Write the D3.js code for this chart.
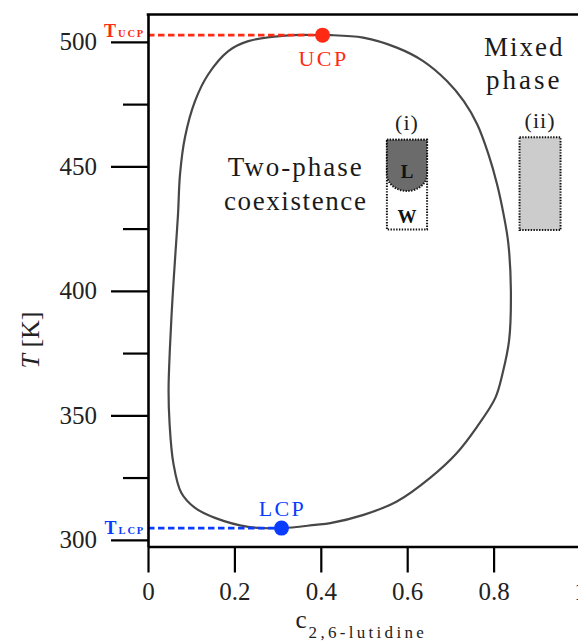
<!DOCTYPE html>
<html>
<head>
<meta charset="utf-8">
<script src="https://cdn.jsdelivr.net/npm/d3@7"></script>
<style>
  html, body { margin: 0; padding: 0; background: #fff; }
  svg { display: block; font-family: "Liberation Serif", "Times New Roman", serif; }
</style>
</head>
<body>
<svg id="chart" width="578" height="643"></svg>
<script>
// Axis ticks
const xTicks = [0, 0.2, 0.4, 0.6, 0.8, 1];
const xTickLabels = ["0", "0.2", "0.4", "0.6", "0.8", "1"];
const yTicks = [300, 350, 400, 450, 500];
const yTickLabels = ["300", "350", "400", "450", "500"];
const yMinorTicks = [325, 375, 425, 475];

// Closed-loop coexistence curve (composition, temperature), clockwise from the UCP
const binodalC = [0.404, 0.422, 0.498, 0.576, 0.637, 0.692, 0.731, 0.762, 0.788, 0.808,
  0.823, 0.834, 0.840, 0.836, 0.821, 0.804, 0.762, 0.715, 0.653, 0.576,
  0.499, 0.422, 0.387, 0.309, 0.232, 0.155, 0.109, 0.077, 0.0586, 0.0500,
  0.0476, 0.0505, 0.0565, 0.0640, 0.0695, 0.0741, 0.0856, 0.1088, 0.1396,
  0.1859, 0.2322, 0.3317];
const binodalT = [502.7, 502.7, 501.7, 497.7, 492.3, 484.3, 476.2, 466.9, 454.9, 442.8,
  430.8, 419.2, 400.3, 380.3, 367.0, 357.0, 345.5, 334.9, 324.9, 315.4,
  310.0, 306.7, 306.0, 304.7, 305.2, 308.8, 312.8, 318.9, 330.9, 346.5,
  360.0, 376.0, 396.3, 416.4, 430.8, 446.8, 461.7, 476.2, 487.0,
  496.3, 500.3, 502.7];

// Critical points
const criticalNames = ["UCP", "LCP"];
const criticalC = [0.404, 0.309];
const criticalT = [502.7, 304.7];
const criticalColors = ["#ff2a14", "#0a3cff"];

const svg = d3.select("#chart");
const x = d3.scaleLinear().domain([0, 1]).range([148, 580]);
const y = d3.scaleLinear().domain([297.3, 511]).range([546.5, 14.5]);

const serif = '"Liberation Serif", "Times New Roman", serif';

// Phase boundary
const pts = binodalC.map((c, i) => [c, binodalT[i]]);
svg.append("path")
  .datum(pts)
  .attr("d", d3.line().x(d => x(d[0])).y(d => y(d[1])).curve(d3.curveCatmullRomClosed.alpha(0.5)))
  .attr("fill", "none")
  .attr("stroke", "#474747")
  .attr("stroke-width", 2.2);

// Dashed guides from the y axis to each critical point
criticalNames.forEach((name, i) => {
  svg.append("line")
    .attr("x1", x(0)).attr("x2", x(criticalC[i]))
    .attr("y1", y(criticalT[i])).attr("y2", y(criticalT[i]))
    .attr("stroke", criticalColors[i])
    .attr("stroke-width", 2.6)
    .attr("stroke-dasharray", "6.5,3.5");
});

// Sample vials
function vial(c0, c1, tTop, tBottom, fill) {
  const g = svg.append("g");
  g.append("rect")
    .attr("x", x(c0)).attr("y", y(tTop))
    .attr("width", x(c1) - x(c0)).attr("height", y(tBottom) - y(tTop))
    .attr("fill", fill)
    .attr("stroke", "#111").attr("stroke-width", 2)
    .attr("stroke-dasharray", "1.4,1.4");
  return g;
}
// (i) two separated layers: lutidine-rich (L) above water-rich (W)
const v1 = vial(0.553, 0.646, 460.7, 424.6, "#fff");
{
  const xl = x(0.553), xr = x(0.646), yt = y(460.7);
  const ySide = y(446.8), yLow = y(440.1);
  const rx = (xr - xl) / 2, ry = yLow - ySide;
  v1.append("path")
    .attr("d", `M${xl},${yt} L${xr},${yt} L${xr},${ySide} A${rx},${ry} 0 0 1 ${xl},${ySide} Z`)
    .attr("fill", "#6b6b6b")
    .attr("stroke", "#111").attr("stroke-width", 2)
    .attr("stroke-dasharray", "1.4,1.4");
  v1.append("text").attr("x", (xl + xr) / 2).attr("y", y(445.5))
    .attr("text-anchor", "middle").attr("font-weight", "bold")
    .attr("font-size", 19).attr("fill", "#111").text("L");
  v1.append("text").attr("x", (xl + xr) / 2).attr("y", y(427.4))
    .attr("text-anchor", "middle").attr("font-weight", "bold")
    .attr("font-size", 19).attr("fill", "#111").text("W");
  svg.append("text").attr("x", (xl + xr) / 2).attr("y", yt - 9.5)
    .attr("text-anchor", "middle").attr("font-size", 22).attr("letter-spacing", 1)
    .attr("fill", "#222").text("(i)");
}
// (ii) single mixed phase
vial(0.860, 0.955, 461.7, 424.4, "#cccccc");
svg.append("text").attr("x", x((0.860 + 0.955) / 2)).attr("y", y(461.7) - 9)
  .attr("text-anchor", "middle").attr("font-size", 22).attr("letter-spacing", 1)
  .attr("fill", "#222").text("(ii)");

// Region labels
function label(text, c, t, size, ls) {
  svg.append("text").attr("x", x(c)).attr("y", y(t))
    .attr("text-anchor", "middle").attr("font-size", size)
    .attr("letter-spacing", ls).attr("fill", "#1a1a1a").text(text);
}
label("Two-phase", 0.342, 446.0, 27, 2);
label("coexistence", 0.342, 432.4, 27, 1.6);
label("Mixed", 0.871, 494.3, 27, 2);
label("phase", 0.871, 480.9, 27, 3);

// Critical points and their names
criticalNames.forEach((name, i) => {
  const px = x(criticalC[i]), py = y(criticalT[i]);
  svg.append("circle").attr("cx", px).attr("cy", py).attr("r", 7.5)
    .attr("fill", criticalColors[i]);
  svg.append("text")
    .attr("x", px + 1)
    .attr("y", i === 0 ? py + 31 : py - 12)
    .attr("text-anchor", "middle").attr("font-size", 22)
    .attr("letter-spacing", 2.4)
    .attr("fill", criticalColors[i]).text(name);
});

// Axes
const xAxis = d3.axisBottom(x).tickValues(xTicks)
  .tickFormat((d, i) => xTickLabels[i]).tickSize(26).tickSizeOuter(0).tickPadding(10);
const yAxis = d3.axisLeft(y).tickValues(yTicks)
  .tickFormat((d, i) => yTickLabels[i]).tickSize(37).tickSizeOuter(0).tickPadding(14);
const yMinor = d3.axisLeft(y).tickValues(yMinorTicks)
  .tickFormat("").tickSize(25).tickSizeOuter(0);

const gx = svg.append("g").attr("transform", `translate(0,${y.range()[0]})`).call(xAxis);
const gy = svg.append("g").attr("transform", `translate(${x.range()[0]},0)`).call(yAxis);
const gm = svg.append("g").attr("transform", `translate(${x.range()[0]},0)`).call(yMinor);

[gx, gy, gm].forEach(g => {
  g.select(".domain").attr("stroke", "#000").attr("stroke-width", 2.6);
  g.selectAll(".tick line").attr("stroke", "#000").attr("stroke-width", 2.2);
  g.selectAll(".tick text").attr("font-family", serif).attr("font-size", 25).attr("fill", "#222");
});
gm.select(".domain").remove();

// Top frame line
svg.append("line")
  .attr("x1", x.range()[0] - 1.3).attr("x2", x.range()[1])
  .attr("y1", y.range()[1]).attr("y2", y.range()[1])
  .attr("stroke", "#000").attr("stroke-width", 2.6);

// Critical temperature markers beside the y axis
function tLabel(sub, t, color, dy) {
  const tx = svg.append("text").attr("x", 145).attr("y", y(t) + dy)
    .attr("text-anchor", "end").attr("fill", color).attr("font-weight", "bold");
  tx.append("tspan").attr("font-size", 18).text("T");
  tx.append("tspan").attr("font-size", 10.5).attr("dx", 2).attr("letter-spacing", 1.8).text(sub);
}
tLabel("UCP", criticalT[0], criticalColors[0], 1.5);
tLabel("LCP", criticalT[1], criticalColors[1], 6);

// Axis titles
const yt = svg.append("text")
  .attr("transform", "translate(39,340) rotate(-90)")
  .attr("text-anchor", "middle").attr("font-size", 26).attr("fill", "#222");
yt.append("tspan").attr("font-style", "italic").text("T");
yt.append("tspan").text(" [K]");

const xt = svg.append("text").attr("x", 295.5).attr("y", 627.5)
  .attr("fill", "#222");
xt.append("tspan").attr("font-size", 25).text("c");
xt.append("tspan").attr("font-size", 17).attr("dy", 10.5).attr("dx", 2)
  .attr("letter-spacing", 3.3).text("2,6-lutidine");
</script>
</body>
</html>
